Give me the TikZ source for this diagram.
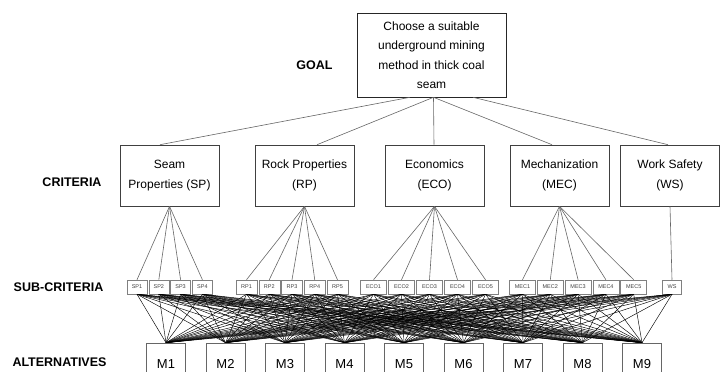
\documentclass[tikz,border=0pt]{standalone}
\usepackage{fontspec}
\setmainfont{Liberation Sans}

\begin{document}
\begin{tikzpicture}[x=1pt, y=-1pt, line width=0.6pt,
  goalbox/.style={draw=black!85, minimum width=149pt, minimum height=84pt, inner sep=0pt, align=center, font=\fontsize{12}{19.5}\selectfont},
  critbox/.style={draw=black!75, minimum width=99pt, minimum height=61pt, inner sep=0pt, align=center, font=\fontsize{12}{20}\selectfont},
  subbox/.style={draw=black!50, line width=0.5pt, minimum height=14pt, inner sep=0pt, font=\fontsize{5.5}{6}\selectfont, text=black!75},
  altbox/.style={draw=black!60, minimum width=39pt, minimum height=42pt, inner sep=0pt, font=\fontsize{13}{14}\selectfont},
  level/.style={font=\bfseries\fontsize{12.5}{14}\selectfont},
  link/.style={draw=black!60, line width=0.6pt},
  mesh/.style={draw=black, line width=0.45pt}]

% picture frame
\useasboundingbox (0, 0) rectangle (726, 372);
\clip (0, 0) rectangle (726, 372);

% draw level labels
\node[level] (lgoal) at (314.5, 65) {GOAL};
\node[level] (lcrit) at (72, 182) {CRITERIA};
\node[level] (lsub) at (58.5, 287) {SUB-CRITERIA};
\node[level] (lalt) at (59.5, 362) {ALTERNATIVES};

% draw goal
\node[goalbox] (goal) at (431.5, 55) {Choose a suitable\\underground mining\\method in thick coal\\seam};

% draw criteria
\node[critbox] (sp) at (169.5, 175.5) {Seam\\Properties (SP)};
\node[critbox] (rp) at (304.5, 175.5) {Rock Properties\\(RP)};
\node[critbox] (eco) at (434.5, 175.5) {Economics\\(ECO)};
\node[critbox] (mec) at (559.5, 175.5) {Mechanization\\(MEC)};
\node[critbox] (ws) at (670, 175.5) {Work Safety\\(WS)};

% draw sub-criteria
\foreach \i in {1,...,4}
  \node[subbox, minimum width=20pt] (sp\i) at ({115.2 + 21.8*\i}, 287) {SP\i};
\foreach \i in {1,...,5}
  \node[subbox, minimum width=21pt] (rp\i) at ({223.75 + 22.75*\i}, 287) {RP\i};
\foreach \i in {1,...,5}
  \node[subbox, minimum width=26pt] (eco\i) at ({345.5 + 28*\i}, 287) {ECO\i};
\foreach \i in {1,...,5}
  \node[subbox, minimum width=26pt] (mec\i) at ({494.7 + 27.8*\i}, 287) {MEC\i};
\node[subbox, minimum width=19pt] (wssub) at (672, 287) {WS};

% draw alternatives
\foreach \i in {1,...,9}
  \node[altbox] (m\i) at ({106.5 + 59.5*\i}, 364) {M\i};

% draw goal to criteria links
\draw[link] ([xshift=-21.5pt]goal.south) -- ([xshift=-9.5pt]sp.north);
\draw[link] ([xshift=2pt]goal.south) -- ([xshift=12.5pt]rp.north);
\draw[link] ([xshift=2pt]goal.south) -- ([xshift=-0.5pt]eco.north);
\draw[link] ([xshift=2pt]goal.south) -- ([xshift=-7.5pt]mec.north);
\draw[link] ([xshift=41.5pt]goal.south) -- ([xshift=-2pt]ws.north);

% draw criteria to sub-criteria links
\foreach \i in {1,...,4} \draw[link] (sp.south) -- (sp\i.north);
\foreach \i in {1,...,5} \draw[link] (rp.south) -- (rp\i.north);
\foreach \i in {1,...,5} \draw[link] (eco.south) -- (eco\i.north);
\foreach \i in {1,...,5} \draw[link] (mec.south) -- (mec\i.north);
\draw[link] (ws.south) -- (wssub.north);

% draw sub-criteria to alternatives mesh
\foreach \s in {sp1,sp2,sp3,sp4,rp1,rp2,rp3,rp4,rp5,eco1,eco2,eco3,eco4,eco5,mec1,mec2,mec3,mec4,mec5,wssub}
  \foreach \m in {1,...,9}
    \draw[mesh] (\s.south) -- (m\m.north);

\end{tikzpicture}
\end{document}
